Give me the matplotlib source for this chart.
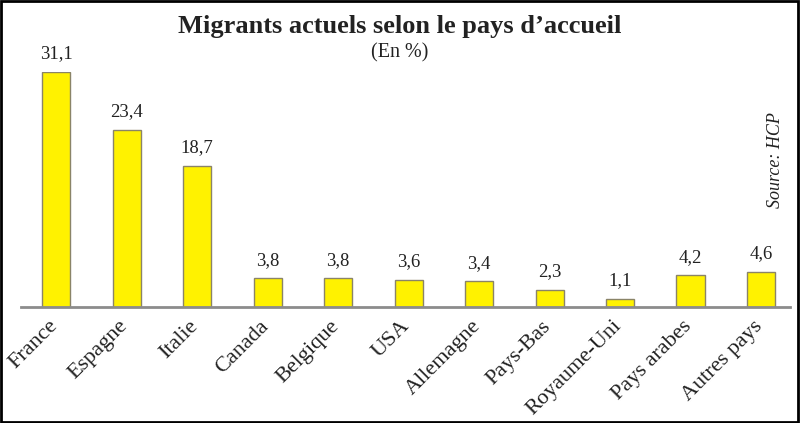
import matplotlib.pyplot as plt
from matplotlib.patches import Rectangle

pays = ["France", "Espagne", "Italie", "Canada", "Belgique", "USA",
        "Allemagne", "Pays-Bas", "Royaume-Uni", "Pays arabes", "Autres pays"]
valeurs = [31.1, 23.4, 18.7, 3.8, 3.8, 3.6, 3.4, 2.3, 1.1, 4.2, 4.6]
etiquettes = ["31,1", "23,4", "18,7", "3,8", "3,8", "3,6", "3,4", "2,3", "1,1", "4,2", "4,6"]

plt.rcParams['font.family'] = ['Liberation Serif', 'DejaVu Serif']

fig = plt.figure(figsize=(8, 4.23), dpi=100)
ax = fig.add_axes([0.02625, 0.274, 0.9612, 0.556])

x = range(len(pays))
ax.bar(x, valeurs, width=0.4, color='#fff200', edgecolor='#8a8468', linewidth=1)
for xi, v, lab in zip(x, valeurs, etiquettes):
    ax.annotate(lab, (xi, v), xytext=(0, 7), textcoords='offset points',
                ha='center', va='bottom', fontsize=13.5, color='#222222')

# country names, rotated under each bar
for xi, p in zip(x, pays):
    ax.annotate(p, (xi, 0), xycoords=('data', 'axes fraction'), xytext=(-6, -7),
                textcoords='offset points', rotation=45, ha='right', va='top',
                rotation_mode='anchor', fontsize=16, color='#222222')

ax.set_xlim(-0.5, 10.41)
ax.set_ylim(0, 31.1)
ax.set_xticks([])
ax.set_yticks([])
for s in ['top', 'right', 'left']:
    ax.spines[s].set_visible(False)
ax.spines['bottom'].set_color('#8c8c8c')
ax.spines['bottom'].set_linewidth(2)

fig.text(0.5, 0.938, "Migrants actuels selon le pays d\u2019accueil", ha='center', va='center',
         fontsize=19, fontweight='bold', color='#222222')
fig.text(0.5, 0.875, "(En %)", ha='center', va='center', fontsize=14.5, color='#222222')
fig.text(0.969, 0.622, "Source: HCP", ha='center', va='center', rotation=90,
         fontsize=13, style='italic', color='#222222')

fig.add_artist(Rectangle((0.001, 0.002), 0.997, 0.995, transform=fig.transFigure,
                         fill=False, edgecolor='black', linewidth=2))

fig.savefig('out.png', dpi=100)
